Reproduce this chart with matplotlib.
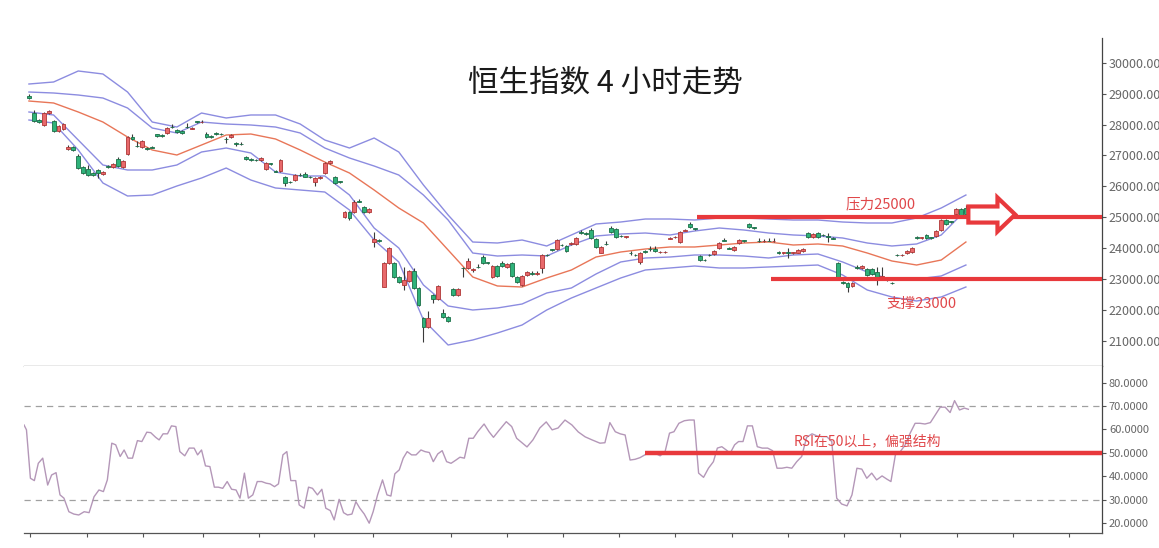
import matplotlib
matplotlib.use("Agg")
import matplotlib.pyplot as plt
from matplotlib.patches import FancyArrow
import numpy as np

plt.rcParams['font.family'] = ['Noto Sans CJK SC', 'DejaVu Sans']

# ---------------- data ----------------
title = "恒生指数 4 小时走势"

opens = [28920,28370,28150,27990,28370,28110,27790,27860,27200,27270,26980,26620,26560,26430,26530,26410,26660,26620,26880,26620,
         27050,27600,27310,27270,27240,27270,27680,27670,27730,27920,27810,27780,27930,27870,28100,28080,27690,27620,27720,27700,
         27540,27590,27390,27380,26960,26890,26860,26850,26560,26750,26510,26500,26290,26150,26200,26370,26400,26310,26150,26270,
         26420,26760,26290,26160,25020,25180,25180,25530,25340,25160,24210,24280,22760,23530,23510,23080,22810,22950,23270,22700,
         21730,21460,22490,22350,21920,21790,22670,22490,23360,23350,23300,23390,23710,23550,23060,23430,23530,23380,23530,23060,
         22810,23130,23190,23180,23350,23790,23960,23970,24110,24070,24150,24140,24510,24490,24590,24290,23860,24140,24640,24620,
         24400,24360,23840,23790,23560,23900,23970,23990,23870,23880,24310,24350,24210,24570,24780,24650,23760,23630,23790,23810,
         24000,24250,24010,23940,24160,24250,24770,24680,24240,24230,24240,24230,23860,23850,23860,23850,23860,23910,24500,24370,
         24500,24440,24380,24330,23530,22900,22870,22780,23380,23360,23320,23320,23240,23030,22980,22880,23790,23770,23840,23890,
         24350,24340,24430,24350,24400,24590,24910,24870,25110,25260,25290]
highs = [28990,28470,28180,28410,28470,28150,27990,28050,27350,27300,27040,26650,26690,26460,26560,26490,26690,26750,26950,26850,
         27630,27700,27470,27500,27270,27300,27710,27700,27920,28020,27840,27810,28040,27920,28130,28140,27760,27650,27750,27730,
         27600,27700,27450,27440,26990,26920,26880,26950,26800,26760,26530,26880,26330,26180,26400,26430,26480,26340,26290,26320,
         26800,26840,26330,26180,25210,25220,25560,25580,25380,25300,24530,24300,23560,24050,23540,23110,23390,23300,23350,22730,
         21780,21970,22520,22810,22050,21820,22700,22700,23380,23700,23360,23480,23790,23570,23460,23460,23590,23520,23560,23090,
         23130,23270,23250,23260,23810,23820,23990,24300,24140,24100,24200,24350,24600,24520,24640,24320,24060,24230,24710,24650,
         24420,24400,23900,23820,23870,23930,24070,24060,23920,23920,24360,24400,24560,24630,24850,24670,23790,23650,23810,23940,
         24190,24330,24030,24080,24300,24270,24800,24700,24320,24300,24330,24320,23920,23880,24000,23890,23970,24010,24530,24490,
         24530,24460,24490,24350,23560,22930,22900,22920,23450,23450,23350,23350,23380,23400,23000,22920,23820,23820,23940,24030,
         24380,24370,24460,24370,24590,24950,24960,24890,25290,25290,25400]
lows =  [28830,28080,28050,27960,28340,27760,27760,27820,27170,27140,26560,26400,26330,26340,26270,26380,26580,26590,26620,26590,
         27010,27510,27280,27240,27170,27230,27610,27600,27700,27890,27740,27710,27900,27840,28050,28050,27580,27560,27660,27650,
         27400,27560,27320,27330,26850,26830,26810,26820,26530,26700,26460,26470,26000,26100,26170,26340,26290,26280,26020,26240,
         26390,26740,26070,26110,24990,24900,25150,25480,25130,25130,24050,24210,22730,23480,23050,22890,22650,22920,22670,22130,
         20980,21430,22220,22320,21740,21630,22460,22460,23070,23320,23230,23360,23500,23500,23030,23070,23400,23350,23070,22890,
         22780,23100,23130,23130,23190,23740,23900,23940,24060,23890,24120,24110,24470,24440,24290,24020,23830,24100,24500,24340,
         24350,24340,23780,23740,23500,23850,23900,23880,23850,23850,24290,24330,24180,24550,24670,24600,23590,23580,23740,23780,
         23970,24220,23960,23910,24130,24200,24670,24630,24200,24200,24220,24210,23820,23820,23670,23820,23830,23880,24340,24340,
         24340,24400,24210,24290,22990,22840,22590,22750,23320,23330,23100,23140,22810,23000,22950,22840,23740,23750,23810,23860,
         24310,24310,24300,24300,24370,24560,24750,24820,25080,25040,25020]
closes = [28860,28120,28080,28370,28440,27790,27950,28020,27270,27170,26590,26430,26360,26370,26430,26460,26620,26720,26650,26820,
          27600,27540,27300,27470,27200,27250,27640,27630,27890,27910,27770,27740,27920,27900,28070,28090,27610,27590,27690,27680,
          27530,27670,27380,27370,26880,26860,26840,26920,26770,26740,26480,26850,26120,26130,26370,26360,26310,26300,26260,26290,
          26770,26820,26100,26140,25180,24970,25490,25500,25160,25270,24290,24240,23530,24020,23080,22920,22970,23270,22700,22160,
          21460,21730,22350,22780,21770,21660,22490,22670,23350,23600,23330,23380,23530,23530,23430,23100,23430,23490,23100,22920,
          23100,23240,23180,23190,23780,23770,23930,24270,24090,23920,24170,24320,24500,24470,24320,24050,24030,24130,24530,24370,
          24380,24380,23830,23770,23840,23880,23960,23910,23890,23890,24330,24370,24530,24600,24700,24630,23620,23610,23770,23910,
          24160,24240,23990,24050,24270,24230,24700,24660,24230,24240,24230,24240,23850,23860,23850,23870,23940,23980,24370,24460,
          24370,24420,24370,24310,23030,22870,22740,22890,23370,23420,23130,23170,23030,23100,22970,22870,23770,23790,23910,24000,
          24340,24350,24340,24330,24560,24910,24780,24850,25260,25070,25110]

# Bollinger-style envelope lines, read every 5 bars (bar 0, 5, ..., 190)
band_bars = [0,5,10,15,20,25,30,35,40,45,50,55,60,65,70,75,80,85,90,95,100,105,110,115,120,125,130,135,140,145,150,155,160,165,170,175,180,185,190]
upper_outer = [29311,29376,29732,29635,29052,28082,27920,28373,28212,28309,28309,28018,27500,27241,27565,27112,26045,25075,24201,24169,
               24266,24072,24428,24784,24848,24945,24945,24913,24977,24977,24945,24913,24913,24848,24816,24816,24977,25301,25721]
upper_inner = [29052,29020,28955,28858,28535,27888,27727,28082,28017,27985,27920,27727,27241,26918,26659,26368,25721,24913,23845,23748,
               23781,23748,24104,24395,24460,24492,24428,24557,24654,24589,24492,24428,24395,24331,24169,24072,24137,24428,25236]
middle_line = [28761,28697,28406,28082,27597,27177,27015,27338,27662,27694,27533,27177,26787,26433,25883,25301,24816,23943,23070,22779,
               22746,23037,23296,23716,23878,23975,24040,24040,24104,24169,24201,24104,24137,24072,23845,23587,23457,23619,24201]
lower_inner = [28406,28309,27500,26692,26530,26530,26692,27112,27241,27080,26465,26336,26336,25721,24654,24008,22811,22132,22002,22067,
               22196,22552,22714,23167,23555,23684,23716,23781,23781,23748,23684,23781,23813,23555,23231,22975,23005,23102,23457]
lower_outer = [28147,28050,27177,26110,25689,25721,26012,26271,26594,26206,25948,25883,25818,25236,24266,23555,21679,20870,21032,21258,
               21517,22002,22390,22714,23037,23296,23361,23425,23361,23361,23393,23425,23457,23134,22649,22423,22293,22423,22746]

# RSI line, (bar position, value)
rsi_bars = [-1.0,-0.5,0.3,1.1,1.9,2.8,3.8,4.6,5.5,6.3,7.1,8.1,9.1,10.1,11.2,12.2,13.2,14.2,15.1,15.9,16.8,17.6,18.5,19.3,20.1,21.0,
            22.0,22.9,23.9,24.7,25.7,26.4,27.2,28.1,28.9,29.8,30.6,31.6,32.5,33.5,34.2,35.0,35.8,36.7,37.6,38.4,39.3,40.2,41.1,42.0,
            42.8,43.7,44.5,45.4,46.3,47.2,48.1,48.9,49.8,50.6,51.5,52.3,53.1,54.1,54.8,55.8,56.7,57.5,58.5,59.4,60.2,61.1,61.9,62.9,
            63.8,64.6,65.5,66.3,67.1,68.0,69.0,69.8,70.7,71.7,72.6,73.4,74.2,75.1,75.9,76.7,77.6,78.5,79.5,80.3,81.2,82.0,82.9,83.8,
            84.7,85.6,86.6,87.4,88.3,89.2,90.1,91.0,92.3,93.3,94.2,95.3,96.8,97.9,98.9,100.1,101.0,102.2,103.6,104.9,106.1,107.3,
            108.7,110.1,111.4,112.8,114.2,115.8,116.8,117.8,118.9,119.9,120.9,121.9,122.9,123.9,124.9,126.0,127.0,128.0,129.0,129.9,
            130.8,131.8,132.9,133.9,134.9,135.8,136.8,137.8,138.8,139.6,140.5,141.4,142.2,143.1,143.9,144.8,145.7,146.7,147.7,148.7,
            149.8,150.8,151.7,152.7,153.7,154.7,155.7,156.7,157.7,158.8,159.8,160.8,161.8,162.8,163.8,164.8,165.9,166.9,167.9,168.9,
            169.9,170.9,171.9,173.0,174.0,174.8,175.7,176.7,177.7,178.7,179.7,180.7,181.7,182.8,183.8,184.8,185.8,186.8,187.7,188.7,
            189.7,190.5]
rsi_vals = [61.9,59.8,39.1,38.1,45.5,47.7,36.2,40.5,41.5,32.0,30.6,24.8,23.8,23.4,24.8,24.4,31.2,34.1,33.4,38.4,54.1,53.4,48.4,51.2,
            47.7,47.7,55.2,54.8,58.8,58.6,56.6,55.5,58.1,58.1,61.5,61.2,50.5,48.7,52.0,52.0,49.1,51.2,44.4,44.1,35.3,35.3,34.8,37.7,
            34.4,34.1,30.6,41.3,30.6,32.0,37.7,37.7,37.0,36.7,35.5,36.7,49.1,50.5,38.1,38.1,27.7,26.3,35.3,34.8,32.0,34.4,26.3,25.3,
            21.3,30.1,24.4,23.4,23.8,29.1,26.3,23.8,19.9,24.8,32.0,38.4,32.0,31.5,41.0,42.7,47.7,50.5,49.1,49.1,51.2,50.5,50.1,46.2,
            49.5,50.9,46.2,45.5,46.9,48.1,47.7,56.2,56.2,59.0,62.3,59.0,56.6,59.5,63.3,61.2,56.2,54.1,52.5,55.5,60.6,63.2,59.8,60.6,
            64.0,61.9,58.9,56.8,55.5,54.1,54.3,62.9,59.0,58.1,57.6,46.9,47.2,47.9,49.1,50.5,49.8,48.7,50.5,58.4,59.0,62.6,63.7,64.0,
            64.0,41.3,39.5,43.4,46.2,52.0,52.6,51.2,49.8,53.4,54.8,54.8,61.5,61.5,52.6,52.0,52.0,50.9,43.4,43.4,43.8,43.4,46.2,48.4,
            56.6,58.1,57.2,56.9,56.9,54.8,30.6,28.1,27.3,32.0,43.4,43.0,39.1,41.3,38.4,40.1,38.7,37.7,49.1,50.5,53.4,58.4,62.6,62.6,
            62.3,62.9,66.2,69.5,69.5,67.2,72.3,68.3,69.1,68.6]

price_ticks = [21000,22000,23000,24000,25000,26000,27000,28000,29000,30000]
rsi_ticks = [20,30,40,50,60,70,80]
time_ticks = [0.3,11.7,23.1,35.2,46.6,57.8,69.8,85.5,96.9,108.3,119.7,131.1,142.5,153.9,165.3,176.7,188.1,199.5,210.9]

resistance = 25000
support = 23000
rsi_mid = 50
rsi_levels = [70, 30]

# ---------------- figure ----------------
W, H = 1159, 548
fig = plt.figure(figsize=(W/100, H/100), dpi=100)
fig.patch.set_facecolor('white')

def fx(px): return px / W
def fy(py): return 1 - py / H

ax1 = fig.add_axes([fx(24), fy(366), fx(1102) - fx(24), fy(38) - fy(366)])
ax2 = fig.add_axes([fx(24), fy(533), fx(1102) - fx(24), fy(366) - fy(533)])

xmin, xmax = -1.0, 217.6
for ax in (ax1, ax2):
    ax.set_xlim(xmin, xmax)
    for s in ('left', 'top'):
        ax.spines[s].set_visible(False)
    ax.spines['right'].set_color('#444444')
    ax.spines['bottom'].set_color('#555555')
    ax.spines['right'].set_linewidth(0.9)
    ax.spines['bottom'].set_linewidth(0.9)
    ax.yaxis.tick_right()
    ax.tick_params(axis='y', direction='out', length=3, width=0.8, colors='#555555',
                   pad=2, labelcolor='#666666')
ax1.tick_params(axis='y', labelsize=9)
ax2.tick_params(axis='y', labelsize=8)

ax1.set_ylim(20191, 30799)
ax2.set_ylim(15.7, 87.1)

# candles
n = len(opens)
xs = np.arange(n)
o = np.array(opens); c = np.array(closes); h = np.array(highs); l = np.array(lows)
up = c >= o
ax1.vlines(xs, l, h, color='#3a3a3a', linewidth=0.8, zorder=3)
bottoms = np.minimum(o, c)
heights = np.maximum(np.abs(c - o), 14)
ax1.bar(xs[up], heights[up], bottom=bottoms[up], width=0.78, color='#e8696b',
        edgecolor='#b03636', linewidth=0.6, zorder=4)
ax1.bar(xs[~up], heights[~up], bottom=bottoms[~up], width=0.78, color='#2fb27a',
        edgecolor='#1b6f48', linewidth=0.6, zorder=4)

# envelope lines
band_col = '#8c8ce0'
for arr in (upper_outer, upper_inner, lower_inner, lower_outer):
    ax1.plot(band_bars, arr, color=band_col, linewidth=1.0, zorder=2)
ax1.plot(band_bars, middle_line, color='#e87658', linewidth=1.0, zorder=2)

# support / resistance
red = '#e8393c'
ax1.hlines(resistance, 135.5, xmax, color=red, linewidth=3.0, zorder=5)
ax1.hlines(support, 150.5, xmax, color=red, linewidth=3.0, zorder=5)
ax1.text(172.8, 25430, "压力25000", color='#e0474a', fontsize=10.5, ha='center', va='center', zorder=6)
ax1.text(181.1, 22196, "支撑23000", color='#e0474a', fontsize=10.5, ha='center', va='center', zorder=6)
arrow = FancyArrow(190.5, 25090, 9.5, 0, width=520, head_width=1100, head_length=3.6,
                   length_includes_head=True, facecolor='white', edgecolor=red, linewidth=3.0, zorder=7)
ax1.add_patch(arrow)

ax1.set_yticks(price_ticks)
ax1.set_yticklabels([f"{v:.2f}" for v in price_ticks])
ax1.set_xticks([])

ax1.text(0.539, 0.863, title, transform=ax1.transAxes, ha='center', va='center',
         fontsize=22, color='#1a1a1a')

# RSI panel
ax2.plot(rsi_bars, rsi_vals, color='#b497b8', linewidth=1.0, zorder=3)
for lv in rsi_levels:
    ax2.axhline(lv, color='#a0a0a0', linewidth=0.9, linestyle=(0, (5, 4)), zorder=1)
ax2.hlines(rsi_mid, 125.0, xmax, color=red, linewidth=3.2, zorder=4)
ax2.text(170.0, 54.8, "RSI在50以上，偏强结构", color='#e0474a', fontsize=10, ha='center', va='center', zorder=5)
ax2.set_yticks(rsi_ticks)
ax2.set_yticklabels([f"{v:.4f}" for v in rsi_ticks])
ax2.set_xticks(time_ticks)
ax2.set_xticklabels([])
ax2.tick_params(axis='x', direction='out', length=3, width=0.8, colors='#555555')

fig.savefig('out.png', dpi=100, facecolor='white')
